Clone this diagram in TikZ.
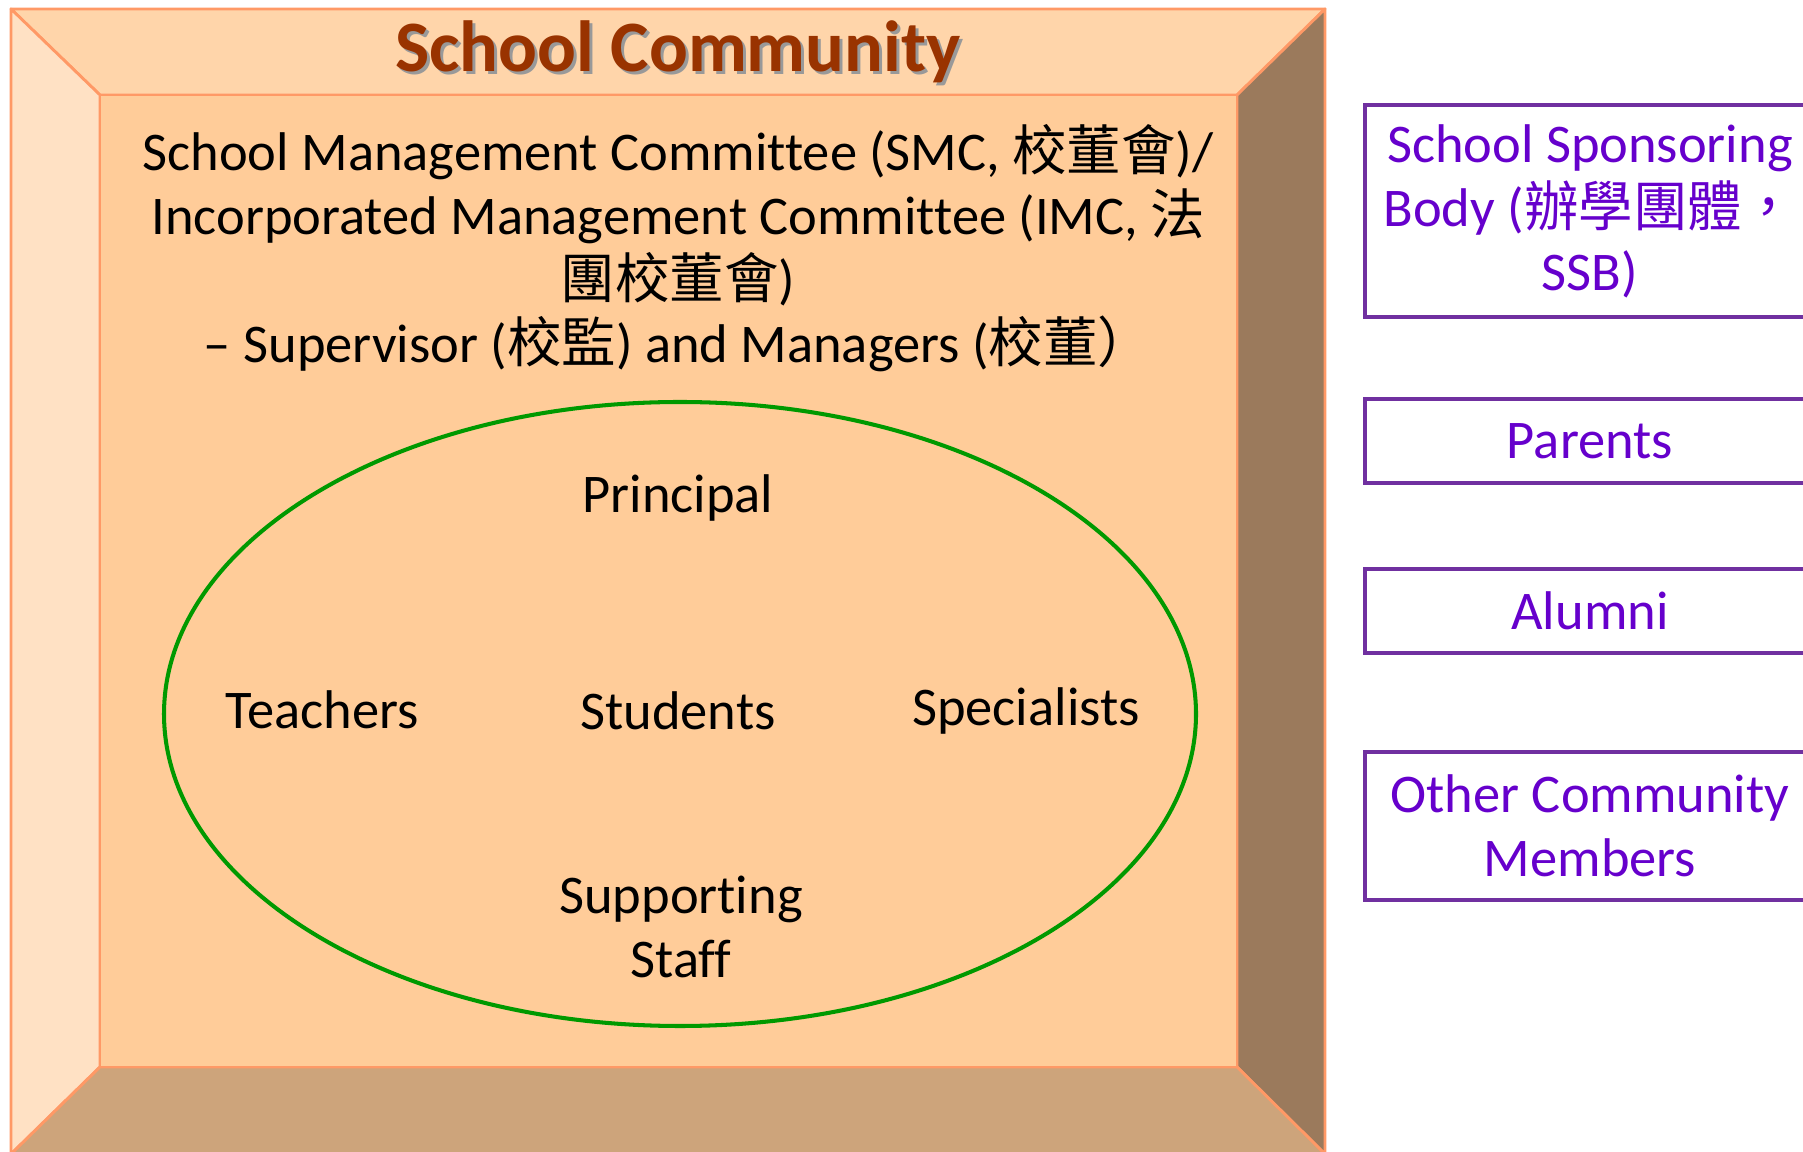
\documentclass[tikz,border=0pt]{standalone}
\usepackage{fontspec}
\setmainfont{Carlito}[Ligatures=NoCommon]
\newfontfamily\cjk{Noto Sans CJK TC}
\newcommand{\zh}[1]{{\cjk #1}}
\usetikzlibrary{shapes.geometric}
\definecolor{frameline}{HTML}{FF9966}
\definecolor{topface}{HTML}{FFD5AA}
\definecolor{leftface}{HTML}{FFE1C4}
\definecolor{rightface}{HTML}{9B7A5C}
\definecolor{bottomface}{HTML}{CDA47B}
\definecolor{innerface}{HTML}{FFCC99}
\definecolor{titletext}{HTML}{993300}
\definecolor{ringline}{HTML}{009900}
\definecolor{boxline}{HTML}{7030A0}
\definecolor{boxtext}{HTML}{6600CC}

\tikzset{
  bevel/.style={draw=frameline, line width=0.8pt, line join=round},
  member/.style={font=\fontsize{15.5}{18.2}\selectfont, align=center},
  partner/.style={draw=boxline, line width=1pt, minimum width=45mm,
    text=boxtext, font=\fontsize{15.5}{18.2}\selectfont, align=center}
}

\begin{document}
\begin{tikzpicture}[x=0.1mm,y=-0.1mm]
\clip (0,0) rectangle (1803,1152);
\fill[white] (0,0) rectangle (1803,1152);

\coordinate (o1) at (11,9);
\coordinate (o2) at (1325,9);
\coordinate (o3) at (1325,1154);
\coordinate (o4) at (11,1154);
\coordinate (i1) at (100,95);
\coordinate (i2) at (1237,95);
\coordinate (i3) at (1237,1067);
\coordinate (i4) at (100,1067);

\draw[bevel, fill=topface] (o1) -- (o2) -- (i2) -- (i1) -- cycle;
\draw[bevel, fill=leftface] (o1) -- (i1) -- (i4) -- (o4) -- cycle;
\draw[bevel, fill=rightface] (o2) -- (o3) -- (i3) -- (i2) -- cycle;
\draw[bevel, fill=bottomface] (i4) -- (i3) -- (o3) -- (o4) -- cycle;
\draw[bevel, fill=innerface] (i1) rectangle (i3);

\node[text=black!40, font=\fontsize{20.6}{25}\selectfont\bfseries] (titleshadow) at (681,55) {School Community};
\node[text=titletext, font=\fontsize{20.6}{25}\selectfont\bfseries] (title) at (678,52) {School Community};

\node[member] (smc) at (678,248) {School Management Committee (SMC, \zh{校董會})/\\
Incorporated Management Committee (IMC, \zh{法}\\
\zh{團校董會})\\
– Supervisor (\zh{校監}) and Managers (\zh{校董）}};

\node[draw=ringline, line width=1.15pt, ellipse, minimum width=103.2mm, minimum height=62.4mm] (ring) at (680,714) {};
\node[member] (principal) at (678,498) {Principal};
\node[member] (teachers) at (322,710) {Teachers};
\node[member] (students) at (678,711) {Students};
\node[member] (specialists) at (1026,711) {Specialists};
\node[member] (staff) at (681,927) {Supporting\\Staff};

\node[partner, minimum height=21.2mm] (ssb) at (1590,211) {School Sponsoring\\Body (\zh{辦學團體，}\\SSB)};
\node[partner, minimum height=8.4mm] (parents) at (1590,441) {Parents};
\node[partner, minimum height=8.4mm] (alumni) at (1590,611) {Alumni};
\node[partner, minimum height=14.8mm] (others) at (1590,826) {Other Community\\Members};
\end{tikzpicture}
\end{document}
